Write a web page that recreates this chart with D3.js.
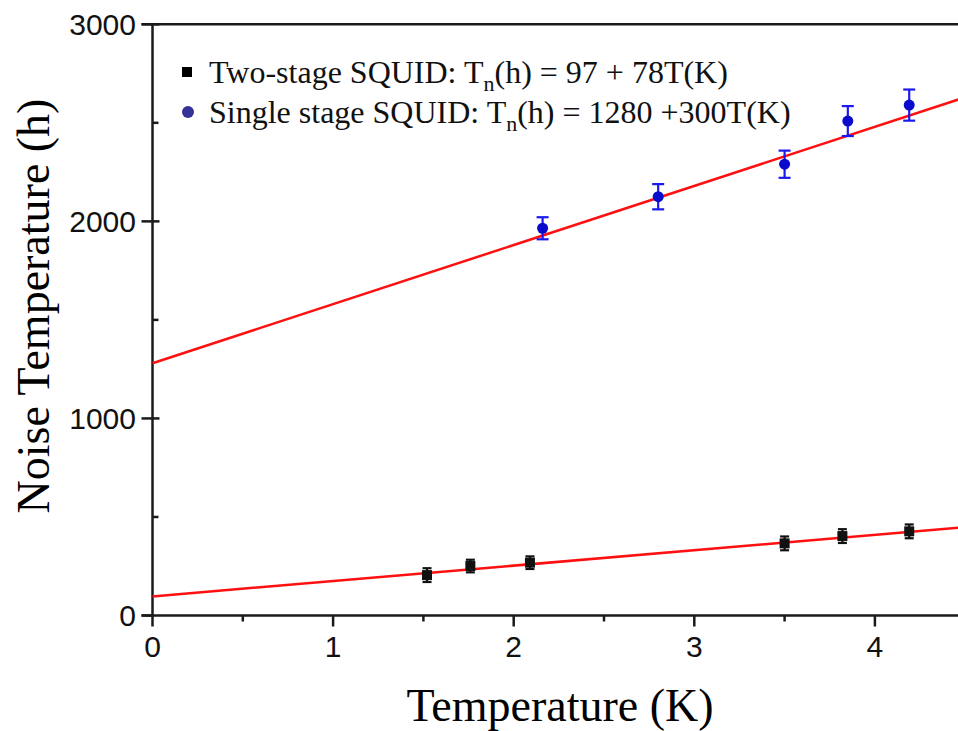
<!DOCTYPE html>
<html>
<head>
<meta charset="utf-8">
<script src="https://cdn.jsdelivr.net/npm/d3@7"></script>
<style>
	body { margin: 0; background: #fff; }
	svg { display: block; }
</style>
</head>
<body>
<div id="vis-proper"></div>
<script>
// two-stage SQUID points (T in K, noise temp in h)
const twoStageT = [1.52, 1.76, 2.09, 3.50, 3.82, 4.19];
const twoStageN = [205, 251, 268, 366, 403, 427];
const twoStageErr = [35, 32, 32, 35, 35, 35];

// single stage SQUID points
const singleT = [2.16, 2.80, 3.50, 3.85, 4.19];
const singleN = [1965, 2125, 2290, 2509, 2590];
const singleErr = [56, 64, 69, 76, 79];

// linear fits: intercept, slope
const twoStageFit = [97, 78];
const singleFit = [1280, 300];

const xTicks = [0, 1, 2, 3, 4];
const xMinor = [0.5, 1.5, 2.5, 3.5];
const yTicks = [0, 1000, 2000, 3000];
const yMinor = [500, 1500, 2500];

const W = 958, H = 731;

const drawChart = () => {
	const visProper = d3.select("#vis-proper");
	visProper.selectAll("*").remove();
	const svg = visProper.append("svg")
		.attr("width", W)
		.attr("height", H);

	const x = d3.scaleLinear().domain([0, 4.5]).range([152.5, 965.2]);
	const y = d3.scaleLinear().domain([0, 3000]).range([615.5, 24.3]);
	const axisColor = "#1a1a1a";

	// top frame line
	svg.append("line")
		.attr("x1", x(0) - 11).attr("x2", W)
		.attr("y1", y(3000)).attr("y2", y(3000))
		.attr("stroke", axisColor).attr("stroke-width", 2.5);

	// y axis
	svg.append("line")
		.attr("x1", x(0)).attr("x2", x(0))
		.attr("y1", y(3000)).attr("y2", y(0))
		.attr("stroke", axisColor).attr("stroke-width", 2.5);
	svg.selectAll(".ymaj").data(yTicks).enter().append("line")
		.attr("x1", x(0) - 11).attr("x2", d => d === 0 ? x(0) : x(0) + 7)
		.attr("y1", d => y(d)).attr("y2", d => y(d))
		.attr("stroke", axisColor).attr("stroke-width", 2.5);
	svg.selectAll(".ymin").data(yMinor).enter().append("line")
		.attr("x1", x(0)).attr("x2", x(0) + 6)
		.attr("y1", d => y(d)).attr("y2", d => y(d))
		.attr("stroke", axisColor).attr("stroke-width", 2.5);
	svg.selectAll(".ylab").data(yTicks).enter().append("text")
		.attr("x", 136).attr("y", d => y(d))
		.attr("dy", "0.36em")
		.attr("text-anchor", "end")
		.attr("font-family", "Liberation Sans, Arial, sans-serif")
		.attr("font-size", 30)
		.attr("fill", "#111")
		.text(d => d);

	// x axis
	svg.append("line")
		.attr("x1", x(0) - 11).attr("x2", W)
		.attr("y1", y(0)).attr("y2", y(0))
		.attr("stroke", axisColor).attr("stroke-width", 2.5);
	svg.selectAll(".xmaj").data(xTicks).enter().append("line")
		.attr("x1", d => x(d)).attr("x2", d => x(d))
		.attr("y1", y(0)).attr("y2", y(0) + 11)
		.attr("stroke", axisColor).attr("stroke-width", 2.5);
	svg.selectAll(".xmin").data(xMinor).enter().append("line")
		.attr("x1", d => x(d)).attr("x2", d => x(d))
		.attr("y1", y(0)).attr("y2", y(0) + 6)
		.attr("stroke", axisColor).attr("stroke-width", 2.5);
	svg.selectAll(".xlab").data(xTicks).enter().append("text")
		.attr("x", d => x(d)).attr("y", 657)
		.attr("text-anchor", "middle")
		.attr("font-family", "Liberation Sans, Arial, sans-serif")
		.attr("font-size", 30)
		.attr("fill", "#111")
		.text(d => d);

	// axis titles
	svg.append("text")
		.attr("x", 560).attr("y", 721)
		.attr("text-anchor", "middle")
		.attr("font-family", "Liberation Serif, Times New Roman, serif")
		.attr("font-size", 46)
		.text("Temperature (K)");
	svg.append("text")
		.attr("transform", "translate(49,306) rotate(-90)")
		.attr("text-anchor", "middle")
		.attr("font-family", "Liberation Serif, Times New Roman, serif")
		.attr("font-size", 46)
		.text("Noise Temperature (h)");

	// fit lines
	const fitLine = fit => [[0, fit[0]], [4.5, fit[0] + fit[1] * 4.5]];
	const line = d3.line().x(d => x(d[0])).y(d => y(d[1]));
	[twoStageFit, singleFit].forEach(fit => {
		svg.append("path")
			.attr("d", line(fitLine(fit)))
			.attr("fill", "none")
			.attr("stroke", "#ff1010")
			.attr("stroke-width", 2.5);
	});

	// error bars + markers
	const drawSeries = (ts, ns, errs, color, capW, marker) => {
		const pts = ts.map((t, i) => ({ t, n: ns[i], e: errs[i] }));
		const g = svg.append("g");
		const eb = g.selectAll("g").data(pts).enter().append("g")
			.attr("stroke", color).attr("stroke-width", 2.2);
		eb.append("line")
			.attr("x1", d => x(d.t)).attr("x2", d => x(d.t))
			.attr("y1", d => y(d.n - d.e)).attr("y2", d => y(d.n + d.e));
		eb.append("line")
			.attr("x1", d => x(d.t) - capW).attr("x2", d => x(d.t) + capW)
			.attr("y1", d => y(d.n + d.e)).attr("y2", d => y(d.n + d.e));
		eb.append("line")
			.attr("x1", d => x(d.t) - capW).attr("x2", d => x(d.t) + capW)
			.attr("y1", d => y(d.n - d.e)).attr("y2", d => y(d.n - d.e));
		if (marker === "square") {
			g.selectAll("rect").data(pts).enter().append("rect")
				.attr("x", d => x(d.t) - 5).attr("y", d => y(d.n) - 5)
				.attr("width", 10).attr("height", 10)
				.attr("fill", color);
		} else {
			g.selectAll("circle").data(pts).enter().append("circle")
				.attr("cx", d => x(d.t)).attr("cy", d => y(d.n))
				.attr("r", 5.5)
				.attr("fill", "#0a0acc");
		}
	};
	drawSeries(twoStageT, twoStageN, twoStageErr, "#111", 4.5, "square");
	drawSeries(singleT, singleN, singleErr, "#1a1af0", 6, "circle");

	// legend
	const legend = svg.append("g")
		.attr("font-family", "Liberation Serif, Times New Roman, serif")
		.attr("font-size", 32)
		.attr("fill", "#111");
	legend.append("rect")
		.attr("x", 182).attr("y", 67).attr("width", 10).attr("height", 10)
		.attr("fill", "#000");
	legend.append("circle")
		.attr("cx", 188).attr("cy", 112).attr("r", 6)
		.attr("fill", "#333399");
	const rows = [
		["Two-stage SQUID: T", "(h) = 97 + 78T(K)", 83],
		["Single stage SQUID: T", "(h) = 1280 +300T(K)", 123]
	];
	rows.forEach(r => {
		const t = legend.append("text").attr("x", 209).attr("y", r[2]);
		t.append("tspan").text(r[0]);
		t.append("tspan").attr("font-size", 22).attr("dy", 8).text("n");
		t.append("tspan").attr("dy", -8).text(r[1]);
	});
};

drawChart();
</script>
</body>
</html>
